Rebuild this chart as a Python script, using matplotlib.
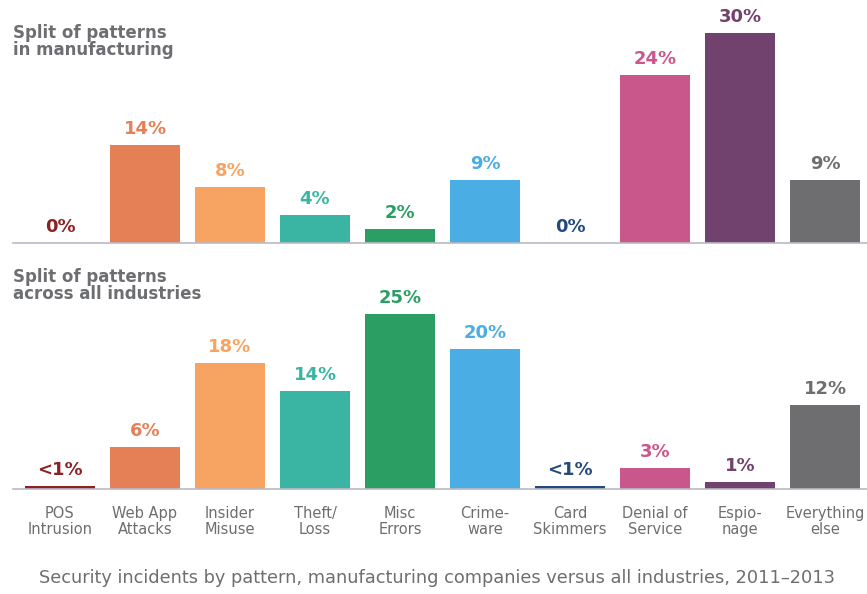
import matplotlib.pyplot as plt
import numpy as np

categories = ["POS\nIntrusion", "Web App\nAttacks", "Insider\nMisuse", "Theft/\nLoss", "Misc\nErrors",
              "Crime-\nware", "Card\nSkimmers", "Denial of\nService", "Espio-\nnage", "Everything\nelse"]
manufacturing = [0, 14, 8, 4, 2, 9, 0, 24, 30, 9]
manufacturing_labels = ["0%", "14%", "8%", "4%", "2%", "9%", "0%", "24%", "30%", "9%"]
all_industries = [0.5, 6, 18, 14, 25, 20, 0.5, 3, 1, 12]
all_industries_labels = ["<1%", "6%", "18%", "14%", "25%", "20%", "<1%", "3%", "1%", "12%"]
colors = ["#8c2124", "#e57f56", "#f7a463", "#3ab5a3", "#2a9e63",
          "#4aade3", "#244a7c", "#c9578c", "#72426e", "#6e6e70"]

grey = "#6d6e71"
plt.rcParams['font.family'] = ['DejaVu Sans']

fig = plt.figure(figsize=(8.67, 5.94), dpi=100)
W, H = 867, 594

def make_axes(baseline_px):
    # x from 17.5 to 867.5 px, 7 px per percent, ylim 0..32
    left = 17.5 / W
    width = 850 / W
    bottom = (H - baseline_px) / H
    height = 32 * 7 / H
    ax = fig.add_axes([left, bottom, width, height])
    ax.set_xlim(-0.5, 9.5)
    ax.set_ylim(0, 32)
    ax.axis("off")
    return ax

x = np.arange(len(categories))

ax1 = make_axes(243)
ax1.bar(x, manufacturing, width=0.835, color=colors)
for xi, v, lab, c in zip(x, manufacturing, manufacturing_labels, colors):
    ax1.annotate(lab, (xi, v), xytext=(0, 5), textcoords="offset points",
                 ha="center", va="bottom", fontsize=13, fontweight="bold", color=c)

ax2 = make_axes(489)
ax2.bar(x, all_industries, width=0.835, color=colors)
for xi, v, lab, c in zip(x, all_industries, all_industries_labels, colors):
    ax2.annotate(lab, (xi, v), xytext=(0, 5), textcoords="offset points",
                 ha="center", va="bottom", fontsize=13, fontweight="bold", color=c)
for xi, cat in zip(x, categories):
    ax2.annotate(cat, (xi, 0), xytext=(0, -12), textcoords="offset points",
                 ha="center", va="top", fontsize=10.5, color=grey, linespacing=1.15)

# baselines
for yb in [243, 489]:
    fig.add_artist(plt.Line2D([13 / W, 1.0], [(H - yb) / H] * 2, color="#b9bac4", lw=1.2))

fig.text(13 / W, 1 - 24 / H, "Split of patterns\nin manufacturing", ha="left", va="top",
         fontsize=12, fontweight="bold", color=grey, linespacing=0.95)
fig.text(13 / W, 1 - 268 / H, "Split of patterns\nacross all industries", ha="left", va="top",
         fontsize=12, fontweight="bold", color=grey, linespacing=0.95)

fig.text(437 / W, 1 - 578 / H,
         "Security incidents by pattern, manufacturing companies versus all industries, 2011–2013",
         ha="center", va="center", fontsize=12.8, color=grey)

fig.savefig("out.png", dpi=100)
